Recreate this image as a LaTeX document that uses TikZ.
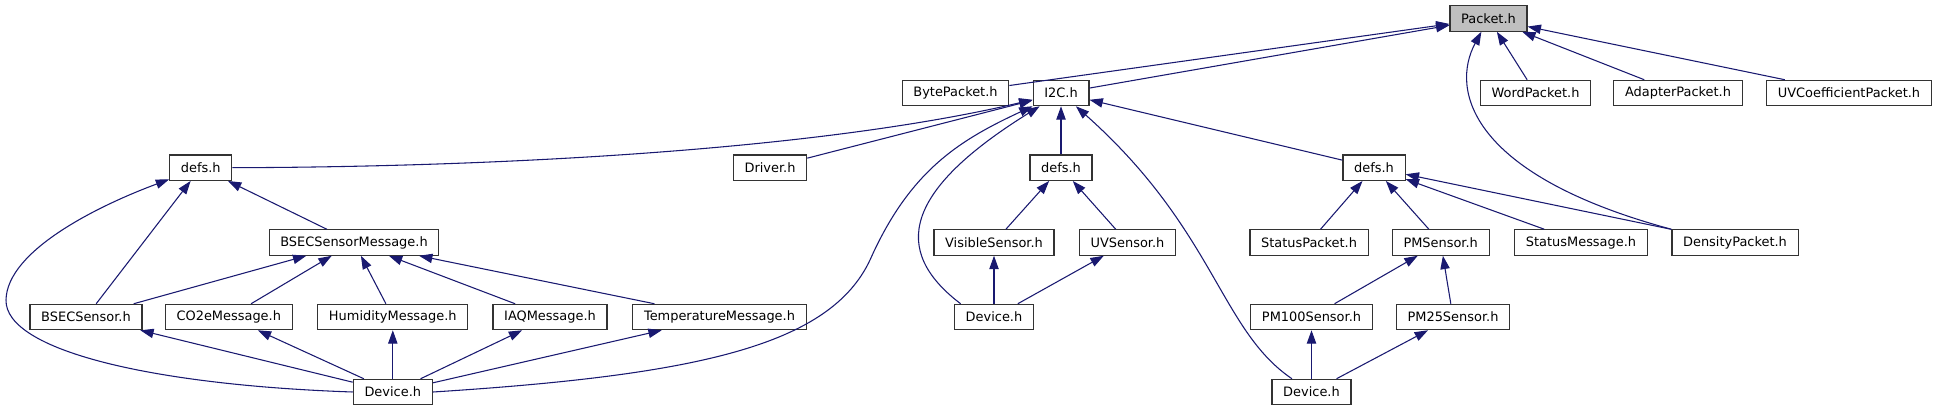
\documentclass[tikz,border=0pt]{standalone}
\usepackage{fontspec}
\setmainfont{DejaVu Sans}
\usetikzlibrary{arrows.meta}
\definecolor{edgeblue}{HTML}{191970}
\definecolor{rootgray}{HTML}{BFBFBF}

\begin{document}
\begin{tikzpicture}[
  x=0.75pt, y=-0.75pt,
  box/.style={draw=black!80, line width=0.9pt, fill=white, minimum height=19pt, inner xsep=8.4pt, inner ysep=0pt, font=\fontsize{9.7}{11}\selectfont},
  root/.style={box, fill=rootgray},
  dep/.style={-{Triangle[length=10pt, width=7pt]}, edgeblue, line width=0.8pt}
]
\useasboundingbox (0,0) rectangle (1937,411);
% top
\node[root] (packet) at (1488.5,18.5) {Packet.h};
% second row
\node[box] (byte) at (955.5,93) {BytePacket.h};
\node[box] (iic) at (1061,93) {I2C.h};
\node[box] (word) at (1535.5,93) {WordPacket.h};
\node[box] (adapter) at (1678,93) {AdapterPacket.h};
\node[box] (uvcoef) at (1849,93) {UVCoefficientPacket.h};
% third row
\node[box] (defsL) at (200.8,167.7) {defs.h};
\node[box] (driver) at (770,167.7) {Driver.h};
\node[box] (defsM) at (1061,167.7) {defs.h};
\node[box] (defsR) at (1374,167.7) {defs.h};
% fourth row
\node[box] (bsecmsg) at (354,242.5) {BSECSensorMessage.h};
\node[box] (visible) at (994,242.5) {VisibleSensor.h};
\node[box] (uvsens) at (1127.5,242.5) {UVSensor.h};
\node[box] (statpkt) at (1309,242.5) {StatusPacket.h};
\node[box] (pmsens) at (1440.7,242.5) {PMSensor.h};
\node[box] (statmsg) at (1581,242.5) {StatusMessage.h};
\node[box] (density) at (1735,242.5) {DensityPacket.h};
% fifth row
\node[box] (bsecsens) at (86,317) {BSECSensor.h};
\node[box] (co2e) at (228.8,317) {CO2eMessage.h};
\node[box] (humid) at (392.8,317) {HumidityMessage.h};
\node[box] (iaq) at (550,317) {IAQMessage.h};
\node[box] (temp) at (719.5,317) {TemperatureMessage.h};
\node[box] (devM) at (994,317) {Device.h};
\node[box] (pmhund) at (1311.5,317) {PM100Sensor.h};
\node[box] (pmtwf) at (1453,317) {PM25Sensor.h};
% bottom
\node[box] (devL) at (392.8,392) {Device.h};
\node[box] (devR) at (1311.5,392) {Device.h};

% Packet.h
\foreach \n in {byte,iic,word,adapter,uvcoef}
  \draw[dep] (\n) -- (packet);
\draw[dep] (density.north west) .. controls (1470,175) and (1450,90) .. (packet);
% I2C.h
\foreach \n in {driver,defsM,defsR}
  \draw[dep] (\n) -- (iic);
\draw[dep] (defsL.east) .. controls (500,167) and (820,150) .. (iic);
\draw[dep] (devL.east) .. controls (700,375) and (830,345) .. (870,260)
  .. controls (910,170) and (960,140) .. (iic);
\draw[dep] ([xshift=5pt]devM.north west) .. controls (890,250) and (905,190) .. (iic);
\draw[dep] (devR) .. controls (1220,330) and (1215,230) .. (iic);
% left defs.h
\foreach \n in {bsecsens,bsecmsg}
  \draw[dep] (\n) -- (defsL);
\draw[dep] (devL.west) .. controls (150,385) and (5,350) .. (6,300)
  .. controls (7,250) and (100,205) .. (defsL);
% BSECSensorMessage.h
\foreach \n in {bsecsens,co2e,humid,iaq,temp} {
  \draw[dep] (\n) -- (bsecmsg);
  \draw[dep] (devL) -- (\n);
}
% middle defs.h
\foreach \n in {visible,uvsens} {
  \draw[dep] (\n) -- (defsM);
  \draw[dep] (devM) -- (\n);
}
% right defs.h
\foreach \n in {statpkt,pmsens,statmsg,density}
  \draw[dep] (\n) -- (defsR);
\foreach \n in {pmhund,pmtwf} {
  \draw[dep] (\n) -- (pmsens);
  \draw[dep] (devR) -- (\n);
}
\end{tikzpicture}
\end{document}
